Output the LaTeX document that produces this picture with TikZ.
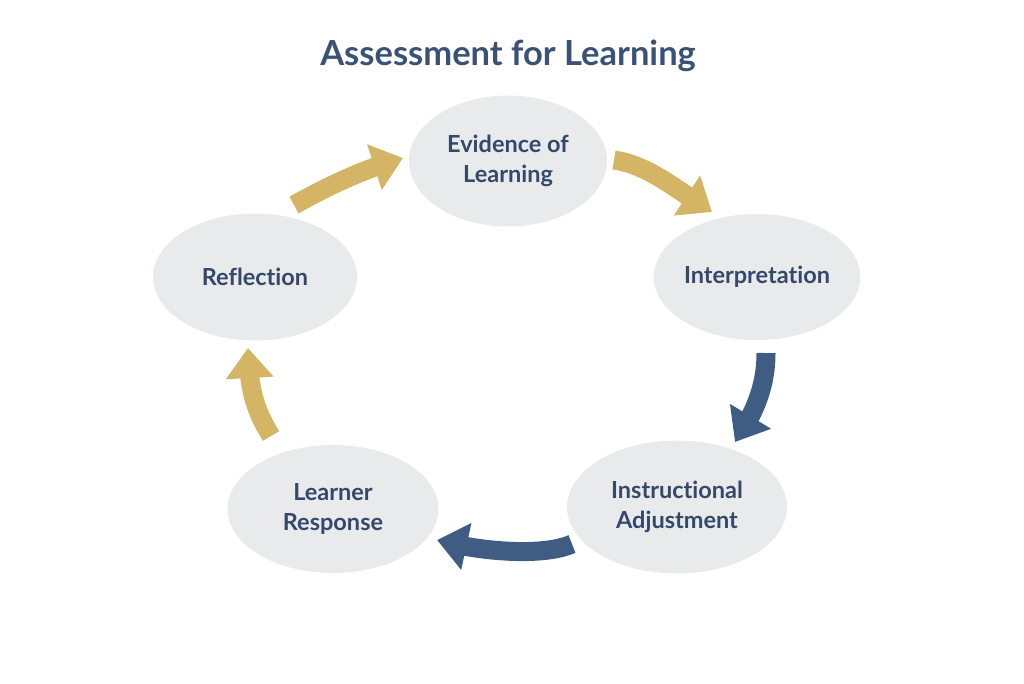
\documentclass[tikz,border=0pt]{standalone}
\usepackage{fontspec}
\setmainfont{Lato}[Ligatures=NoCommon]
\usetikzlibrary{arrows.meta,bending,shapes.geometric}
\definecolor{titleblue}{HTML}{3A5276}
\definecolor{textblue}{HTML}{34496A}
\definecolor{arrblue}{HTML}{3F5D82}
\definecolor{arrgold}{HTML}{D4B566}
\definecolor{ellfill}{HTML}{E9EAEC}
\begin{document}
\begin{tikzpicture}[x=1pt,y=-1pt,
  stage/.style={ellipse,fill=ellfill,inner sep=0pt,text=textblue,
    font=\bfseries\fontsize{23.5}{29.5}\selectfont,align=center},
  goldarrow/.style={draw=arrgold,line width=19pt,
    -{Triangle[width=46pt,length=30pt,flex]}},
  bluearrow/.style={draw=arrblue,line width=19pt,
    -{Triangle[width=46pt,length=30pt,flex]}}]
\useasboundingbox (0,0) rectangle (1024,683);
\node[text=titleblue,font=\bfseries\fontsize{34.5}{40}\selectfont] (title) at (508,56) {Assessment for Learning};
\node[stage,minimum width=198pt,minimum height=131pt] (ev) at (508,161) {Evidence of\\Learning};
\node[stage,minimum width=203pt,minimum height=126pt] (int) at (757,277) {Interpretation};
\node[stage,minimum width=220pt,minimum height=133pt] (ins) at (677,507) {Instructional\\Adjustment};
\node[stage,minimum width=211pt,minimum height=128pt] (lr) at (333,509) {Learner\\Response};
\node[stage,minimum width=204pt,minimum height=127pt] (ref) at (255,277) {Reflection};
% arrow end points
\coordinate (s1) at (614,160); \coordinate (t1) at (712,212);
\coordinate (s2) at (766,353); \coordinate (t2) at (735,442);
\coordinate (s3) at (572,544); \coordinate (t3) at (437,540);
\coordinate (s4) at (271,436); \coordinate (t4) at (248,348);
\coordinate (s5) at (294,205); \coordinate (t5) at (403,158);
\draw[goldarrow] (s1) .. controls (649,165) and (678,191) .. (t1);
\draw[bluearrow] (s2) .. controls (766,383) and (757,410) .. (t2);
\draw[bluearrow] (s3) .. controls (545,556) and (485,553) .. (t3);
\draw[goldarrow] (s4) .. controls (261,419) and (248,398) .. (t4);
\draw[goldarrow] (s5) .. controls (325,188) and (360,170) .. (t5);
\end{tikzpicture}
\end{document}
